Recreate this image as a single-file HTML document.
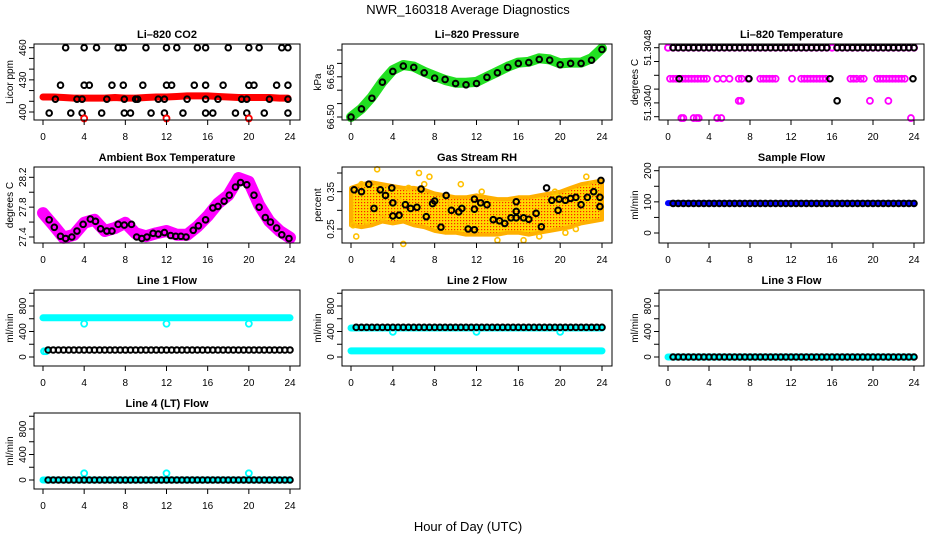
<!DOCTYPE html>
<html><head><meta charset="utf-8">
<style>
html,body{margin:0;padding:0;background:#fff;}
svg{display:block;font-family:"Liberation Sans",sans-serif;}
</style></head>
<body>
<svg id="chart" width="936" height="540" viewBox="0 0 936 540" xmlns="http://www.w3.org/2000/svg">
<defs>
<pattern id="rhpat" width="3" height="3" patternUnits="userSpaceOnUse">
<rect width="3" height="3" fill="#ffd800"/><rect x="1" y="1" width="1.2" height="1.2" fill="#ff2000"/>
</pattern>
</defs>
<text x="468" y="14" text-anchor="middle" font-size="13">NWR_160318  Average Diagnostics</text>
<text x="468" y="531" text-anchor="middle" font-size="13">Hour of Day (UTC)</text>
<g id="panels"></g>
</svg>
<script>
// ---- data ----
const hours = [0,1,2,3,4,5,6,7,8,9,10,11,12,13,14,15,16,17,18,19,20,21,22,23,24];
const hh = [0,0.5,1,1.5,2,2.5,3,3.5,4,4.5,5,5.5,6,6.5,7,7.5,8,8.5,9,9.5,10,10.5,11,11.5,12,12.5,13,13.5,14,14.5,15,15.5,16,16.5,17,17.5,18,18.5,19,19.5,20,20.5,21,21.5,22,22.5,23,23.5,24];
const xTicks = [0,4,8,12,16,20,24];

// CO2
const co2Red = [414,414,413.5,413,413,413,413,413.5,413,413,413.5,414,414,414.5,415,415,415,414.5,414,413.5,413.5,413.5,413.5,413,413];
const co2BlackHours = [2.2,4,5.2,7.3,7.8,10,12,13,15,15.8,18,20,21,23.2,23.8, 1.7,4,4.5,6.7,7.8,9.7,12,12.5,14.7,15.8,17.5,20,20.5,22.7,23.8, 1.2,3.3,3.8,6.2,7.9,9,9.2,11.2,11.8,14,15.8,17,19.3,19.8,22,23.8, 0.6,2.7,3.8,5.7,7.9,8.5,10.5,11.8,13.6,15.8,16.5,18.7,19.8,21.5,23.8];
const co2BlackVals = [460,460,460,460,460,460,460,460,460,460,460,460,460,460,460, 425,425,425,425,425,425,425,425,425,425,425,425,425,425,425, 412,412,412,412,412,412,412,412,412,412,412,412,412,412,412,412, 399,399,399,399,399,399,399,399,399,399,399,399,399,399,399];
const co2OutHours = [4,12,20];
const co2OutVals = [394,394,394];

// Pressure
const presGreen = [66.50,66.531,66.575,66.631,66.675,66.694,66.688,66.669,66.653,66.638,66.628,66.628,66.631,66.65,66.669,66.688,66.703,66.706,66.719,66.715,66.70,66.703,66.703,66.719,66.756];
const presBlack = [66.50,66.53,66.57,66.63,66.67,66.69,66.685,66.665,66.645,66.64,66.625,66.62,66.625,66.648,66.665,66.685,66.700,66.703,66.715,66.712,66.695,66.70,66.70,66.712,66.752];

// Li-820 temperature
const tempTopMag = [51.3048,51.3048,51.3048,51.3048,51.3048,51.3048,51.3048,51.3048,51.3048,51.3048,51.3048,51.3048,51.3048,51.3048,51.3048,51.3048,51.3048,51.3048,51.3048,51.3048,51.3048,51.3048,51.3048,51.3048,51.3048,51.3048,51.3048,51.3048,51.3048,51.3048,51.3048,51.3048,51.3048,51.3048,51.3048,51.3048,51.3048,51.3048,51.3048,51.3048,51.3048,51.3048,51.3048,51.3048,51.3048,51.3048,51.3048,51.3048,51.3048];
const tempTopBlack = [null,51.3048,51.3048,51.3048,51.3048,51.3048,51.3048,51.3048,51.3048,51.3048,51.3048,51.3048,51.3048,51.3048,51.3048,51.3048,51.3048,51.3048,51.3048,51.3048,51.3048,51.3048,51.3048,51.3048,51.3048,51.3048,51.3048,51.3048,51.3048,51.3048,51.3048,51.3048,null,51.3048,51.3048,51.3048,51.3048,51.3048,51.3048,51.3048,51.3048,51.3048,51.3048,51.3048,51.3048,51.3048,51.3048,51.3048,51.3048];
const tempMagHours = [0.2,0.5,0.8,1.1,1.4,1.7,2.0,2.3,2.6,2.9,3.2,3.5,3.8,4.8,5.4,6.0,6.9,7.2,7.8,9.0,9.3,9.6,9.9,10.2,10.5,12.1,13.0,13.3,13.6,13.9,14.2,14.5,14.8,15.1,15.4,17.8,18.1,18.4,18.8,19.1,20.4,20.7,21.0,21.3,21.6,21.9,22.2,22.5,22.8,23.1, 6.9,7.1,19.7,21.5, 1.3,1.5,2.5,2.8,3.0,4.8,5.2,23.7];
const tempMagVals = [51.30435,51.30435,51.30435,51.30435,51.30435,51.30435,51.30435,51.30435,51.30435,51.30435,51.30435,51.30435,51.30435,51.30435,51.30435,51.30435,51.30435,51.30435,51.30435,51.30435,51.30435,51.30435,51.30435,51.30435,51.30435,51.30435,51.30435,51.30435,51.30435,51.30435,51.30435,51.30435,51.30435,51.30435,51.30435,51.30435,51.30435,51.30435,51.30435,51.30435,51.30435,51.30435,51.30435,51.30435,51.30435,51.30435,51.30435,51.30435,51.30435,51.30435, 51.30403,51.30403,51.30403,51.30403, 51.30378,51.30378,51.30378,51.30378,51.30378,51.30378,51.30378,51.30378];
const tempBlackHours = [1.1,7.9,15.8,23.9,16.5];
const tempBlackVals = [51.30435,51.30435,51.30435,51.30435,51.30403];

// Ambient box temperature
const ambMag = [27.72,27.56,27.39,27.43,27.59,27.63,27.48,27.52,27.59,27.45,27.41,27.45,27.48,27.43,27.43,27.54,27.68,27.85,27.96,28.19,28.14,27.83,27.61,27.48,27.39];
const ambBlackHours = [0.6,1.1,1.7,2.2,2.8,3.3,3.9,4.6,5.1,5.6,6.2,6.7,7.3,7.9,8.6,9.1,9.6,10.1,10.7,11.2,11.8,12.4,12.9,13.4,13.9,14.6,15.1,15.8,16.5,17,17.6,18.1,18.7,19.2,19.8,20.5,21,21.6,22.1,22.7,23.2,23.9];
const ambBlackVals = [27.63,27.53,27.41,27.38,27.40,27.48,27.57,27.64,27.61,27.51,27.48,27.48,27.57,27.56,27.57,27.40,27.38,27.40,27.45,27.44,27.46,27.42,27.41,27.41,27.40,27.49,27.55,27.63,27.79,27.81,27.88,27.96,28.07,28.13,28.10,27.96,27.80,27.66,27.60,27.52,27.43,27.38];

// Gas stream RH
const rhUpper = [0.36,0.37,0.375,0.37,0.365,0.36,0.36,0.355,0.345,0.34,0.335,0.335,0.34,0.335,0.33,0.33,0.335,0.335,0.34,0.345,0.35,0.36,0.37,0.375,0.38];
const rhLower = [0.26,0.255,0.26,0.27,0.265,0.27,0.26,0.255,0.245,0.24,0.24,0.235,0.235,0.235,0.235,0.24,0.24,0.235,0.24,0.245,0.25,0.255,0.265,0.27,0.275];
const rhBlackHours = [0.3,1,1.7,2.2,2.8,3.3,3.9,4,4,4.6,5.2,5.7,6.3,6.7,7.2,7.8,8,8.6,9.1,9.6,10.3,10.6,11.2,11.8,11.8,11.8,12.4,13,13.6,14.2,14.7,15.3,15.8,15.8,15.8,16.5,17,17.7,18.2,18.7,19.2,19.8,19.9,20.5,21,21.5,22,22.6,23.2,23.8,23.8,23.9];
const rhBlackVals = [0.355,0.35,0.37,0.305,0.355,0.34,0.36,0.32,0.285,0.287,0.315,0.305,0.308,0.357,0.283,0.318,0.325,0.255,0.34,0.30,0.296,0.305,0.25,0.248,0.33,0.303,0.32,0.315,0.275,0.272,0.265,0.28,0.297,0.323,0.28,0.28,0.276,0.292,0.256,0.36,0.327,0.30,0.33,0.327,0.332,0.335,0.315,0.335,0.35,0.31,0.335,0.38];
const rhYellowHours = [0.2,0.5,1.0,1.5,2.5,3.0,4.5,5.0,5.5,6.5,7.0,7.5,9.5,10.5,12.5,14.0,16.5,18.0,19.5,20.5,21.5,22.5,23.0];
const rhYellowVals = [0.26,0.23,0.37,0.27,0.41,0.28,0.33,0.21,0.36,0.40,0.37,0.39,0.32,0.37,0.35,0.22,0.22,0.23,0.35,0.24,0.25,0.39,0.37];

// Sample flow
const sampBlue = [96,96,96,96,96,96,96,96,96,96,96,96,96,96,96,96,96,96,96,96,96,96,96,96,96,96,96,96,96,96,96,96,96,96,96,96,96,96,96,96,96,96,96,96,96,96,96,96,96];
const sampBlack = [null,95,95,95,95,95,95,95,95,95,95,95,95,95,95,95,95,95,95,95,95,95,95,95,95,95,95,95,95,95,95,95,95,95,95,95,95,95,95,95,95,95,95,95,95,95,95,95,95];

// Line flows
const l1Cyan = [615,615,615,615,615,615,615,615,615,615,615,615,615,615,615,615,615,615,615,615,615,615,615,615,615,615,615,615,615,615,615,615,615,615,615,615,615,615,615,615,615,615,615,615,615,615,615,615,615];
const l1Black = [null,110,110,110,110,110,110,110,110,110,110,110,110,110,110,110,110,110,110,110,110,110,110,110,110,110,110,110,110,110,110,110,110,110,110,110,110,110,110,110,110,110,110,110,110,110,110,110,110];
const l1CyanExtraHours = [0.1,0.3,4,12,20];
const l1CyanExtraVals = [90,90,522,522,522];

const l2CyanUp = [455,455,455,455,455,455,455,455,455,455,455,455,455,455,455,455,455,455,455,455,455,455,455,455,455,455,455,455,455,455,455,455,455,455,455,455,455,455,455,455,455,455,455,455,455,455,455,455,455];
const l2CyanLow = [95,95,95,95,95,95,95,95,95,95,95,95,95,95,95,95,95,95,95,95,95,95,95,95,95,95,95,95,95,95,95,95,95,95,95,95,95,95,95,95,95,95,95,95,95,95,95,95,95];
const l2Black = [null,465,465,465,465,465,465,465,465,465,465,465,465,465,465,465,465,465,465,465,465,465,465,465,465,465,465,465,465,465,465,465,465,465,465,465,465,465,465,465,465,465,465,465,465,465,465,465,465];
const l2CyanExtraHours = [4,12,20];
const l2CyanExtraVals = [395,395,395];

const l3Cyan = [0,0,0,0,0,0,0,0,0,0,0,0,0,0,0,0,0,0,0,0,0,0,0,0,0,0,0,0,0,0,0,0,0,0,0,0,0,0,0,0,0,0,0,0,0,0,0,0,0];
const l3Black = [null,0,0,0,0,0,0,0,0,0,0,0,0,0,0,0,0,0,0,0,0,0,0,0,0,0,0,0,0,0,0,0,0,0,0,0,0,0,0,0,0,0,0,0,0,0,0,0,0];

const l4Cyan = [0,0,0,0,0,0,0,0,0,0,0,0,0,0,0,0,0,0,0,0,0,0,0,0,0,0,0,0,0,0,0,0,0,0,0,0,0,0,0,0,0,0,0,0,0,0,0,0,0];
const l4Black = [null,0,0,0,0,0,0,0,0,0,0,0,0,0,0,0,0,0,0,0,0,0,0,0,0,0,0,0,0,0,0,0,0,0,0,0,0,0,0,0,0,0,0,0,0,0,0,0,0];
const l4CyanExtraHours = [4,12,20];
const l4CyanExtraVals = [105,105,105];

const flowTicks = [0,200,400,600,800,1000];
const flowLabels = [0,400,800];

// ---- drawing ----
const NS = 'http://www.w3.org/2000/svg';
const root = document.getElementById('panels');
function mk(tag, parent, attrs){
  const e = document.createElementNS(NS, tag);
  for (const k in attrs) e.setAttribute(k, attrs[k]);
  parent.appendChild(e);
  return e;
}
const cols = [[34,300],[342,612],[659,924]];
const rows = [[44,120],[167,243],[290,366],[413,489]];

function panel(cfg){
  const [bl, br] = cols[cfg.col];
  const [bt, bb] = rows[cfg.row];
  const g = mk('g', root, {});
  
  
  const x0 = bl + 9, x1 = br - 10;
  const xs = v => x0 + (v / 24) * (x1 - x0);
  const [va, oa, vb, ob] = cfg.ycal;
  const ys = v => (bt + oa) + (v - va) * ((ob - oa) / (vb - va));
  const cg = mk('g', g, {});
  
  
  cfg.draw(cg, xs, ys);
  const box = mk('rect', g, {x: bl, y: bt, width: br - bl, height: bb - bt, fill: 'none', stroke: '#000', 'stroke-width': 1});
  
  
  const t = mk('text', g, {x: (bl + br) / 2, y: bt - 6, 'text-anchor': 'middle', 'font-size': 11, 'font-weight': 'bold'});
  t.textContent = cfg.title;
  
  
  const xa = mk('g', g, {});
  
  
  xTicks.forEach(v => {
    mk('line', xa, {x1: xs(v), x2: xs(v), y1: bb, y2: bb + 5, stroke: '#000'});
    const lt = mk('text', xa, {x: xs(v), y: bb + 20, 'text-anchor': 'middle', 'font-size': 10});
    lt.textContent = v;
  });
  const ya = mk('g', g, {});
  
  
  cfg.yticks.forEach(v => {
    mk('line', ya, {x1: bl - 5, x2: bl, y1: ys(v), y2: ys(v), stroke: '#000'});
  });
  cfg.ylabels.forEach((v, i) => {
    const lx = bl - 8, ly = ys(v);
    const lt = mk('text', ya, {x: lx, y: ly, 'text-anchor': 'middle', 'font-size': 10, transform: `rotate(-90 ${lx} ${ly})`});
    lt.textContent = cfg.ylabelText ? cfg.ylabelText[i] : v;
  });
  const tx = bl - 21, ty = (bt + bb) / 2;
  const yt = mk('text', g, {x: tx, y: ty, 'text-anchor': 'middle', 'font-size': 10, transform: `rotate(-90 ${tx} ${ty})`});
  yt.textContent = cfg.ytitle;
  
  
}

function pts(g, xsArr, vals, xs, ys, color, r, sw, name){
  xsArr.forEach((h, i) => {
    const v = vals[i];
    if (v === null || v === undefined) return;
    const c = mk('circle', g, {cx: xs(h), cy: ys(v), r: r, fill: 'none', stroke: color, 'stroke-width': sw});
    
    
  });
}
function band(g, xsArr, vals, xs, ys, color, w, name){
  const p = [];
  xsArr.forEach((h, i) => { if (vals[i] !== null) p.push(xs(h).toFixed(1) + ',' + ys(vals[i]).toFixed(1)); });
  const l = mk('polyline', g, {points: p.join(' '), fill: 'none', stroke: color, 'stroke-width': w, 'stroke-linejoin': 'round', 'stroke-linecap': 'round'});
  
  
}

const BLK = '#000', CY = '#00ffff';
const BR = 2.8, BW = 2;

panel({name: 'co2-panel', title: 'Li\u2013820 CO2', col: 0, row: 0, ytitle: 'Licor ppm',
  ycal: [400, 68, 460, 3.7], yticks: [400,410,420,430,440,450,460], ylabels: [400,430,460],
  draw: (g, xs, ys) => {
    band(g, hours.slice(0, 24).concat([23.8]), co2Red, xs, ys, '#ff0000', 7, 'co2-red-band');
    pts(g, co2BlackHours, co2BlackVals, xs, ys, BLK, BR, BW, 'co2-black-point');
    pts(g, co2OutHours, co2OutVals, xs, ys, '#ff0000', 3, 1.8, 'co2-red-outlier');
  }});

panel({name: 'pressure-panel', title: 'Li\u2013820 Pressure', col: 1, row: 0, ytitle: 'kPa',
  ycal: [66.50, 73, 66.75, 6], yticks: [66.50,66.55,66.60,66.65,66.70,66.75], ylabels: [66.50,66.65], ylabelText: ['66.50','66.65'],
  draw: (g, xs, ys) => {
    band(g, hours, presGreen, xs, ys, '#22e022', 10, 'pressure-green-band');
    pts(g, hours, presBlack, xs, ys, BLK, BR, BW, 'pressure-black-point');
  }});

panel({name: 'li820-temp-panel', title: 'Li\u2013820 Temperature', col: 2, row: 0, ytitle: 'degrees C',
  ycal: [51.3048, 3.7, 51.3038, 72.7], yticks: [51.3038,51.3040,51.3042,51.3044,51.3046,51.3048], ylabels: [51.3040,51.3048], ylabelText: ['51.3040','51.3048'],
  draw: (g, xs, ys) => {
    pts(g, hh, tempTopMag, xs, ys, '#ff00ff', 3, 2, 'temp-magenta-top');
    pts(g, tempMagHours, tempMagVals, xs, ys, '#ff00ff', 3, 1.8, 'temp-magenta-point');
    pts(g, hh, tempTopBlack, xs, ys, BLK, BR, BW, 'temp-black-top');
    pts(g, tempBlackHours, tempBlackVals, xs, ys, BLK, BR, BW, 'temp-black-point');
  }});

panel({name: 'ambient-temp-panel', title: 'Ambient Box Temperature', col: 0, row: 1, ytitle: 'degrees C',
  ycal: [27.4, 70, 28.2, 10.3], yticks: [27.4,27.6,27.8,28.0,28.2], ylabels: [27.4,27.8,28.2], ylabelText: ['27.4','27.8','28.2'],
  draw: (g, xs, ys) => {
    band(g, hours, ambMag, xs, ys, '#ff00ff', 12, 'ambient-magenta-band');
    pts(g, ambBlackHours, ambBlackVals, xs, ys, BLK, BR, BW, 'ambient-black-point');
  }});

panel({name: 'rh-panel', title: 'Gas Stream RH', col: 1, row: 1, ytitle: 'percent',
  ycal: [0.25, 62, 0.40, 6], yticks: [0.25,0.30,0.35,0.40], ylabels: [0.25,0.35], ylabelText: ['0.25','0.35'],
  draw: (g, xs, ys) => {
    const p = [];
    hours.forEach((h, i) => p.push(xs(h).toFixed(1) + ',' + ys(rhUpper[i]).toFixed(1)));
    for (let i = hours.length - 1; i >= 0; i--) p.push(xs(hours[i]).toFixed(1) + ',' + ys(rhLower[i]).toFixed(1));
    const poly = mk('polygon', g, {points: p.join(' '), fill: 'url(#rhpat)', stroke: '#ffb000', 'stroke-width': 4, 'stroke-linejoin': 'round'});
    
    
    pts(g, rhYellowHours, rhYellowVals, xs, ys, '#ffc000', 2.5, 1.6, 'rh-yellow-point');
    pts(g, rhBlackHours, rhBlackVals, xs, ys, BLK, BR, BW, 'rh-black-point');
  }});

panel({name: 'sample-flow-panel', title: 'Sample Flow', col: 2, row: 1, ytitle: 'ml/min',
  ycal: [0, 66, 200, 3.7], yticks: [0,50,100,150,200], ylabels: [0,100,200],
  draw: (g, xs, ys) => {
    band(g, hh, sampBlue, xs, ys, '#0000ff', 6, 'sample-blue-band');
    pts(g, hh, sampBlack, xs, ys, BLK, BR, BW, 'sample-black-point');
  }});

panel({name: 'line1-flow-panel', title: 'Line 1 Flow', col: 0, row: 2, ytitle: 'ml/min',
  ycal: [0, 67, 1000, 3.25], yticks: flowTicks, ylabels: flowLabels,
  draw: (g, xs, ys) => {
    band(g, hh, l1Cyan, xs, ys, CY, 7, 'line1-cyan-band');
    pts(g, l1CyanExtraHours, l1CyanExtraVals, xs, ys, CY, 3, 1.8, 'line1-cyan-point');
    pts(g, hh, l1Black, xs, ys, BLK, BR, BW, 'line1-black-point');
  }});

panel({name: 'line2-flow-panel', title: 'Line 2 Flow', col: 1, row: 2, ytitle: 'ml/min',
  ycal: [0, 67, 1000, 3.25], yticks: flowTicks, ylabels: flowLabels,
  draw: (g, xs, ys) => {
    band(g, hh, l2CyanUp, xs, ys, CY, 7, 'line2-cyan-upper-band');
    band(g, hh, l2CyanLow, xs, ys, CY, 7, 'line2-cyan-lower-band');
    pts(g, l2CyanExtraHours, l2CyanExtraVals, xs, ys, CY, 3, 1.8, 'line2-cyan-point');
    pts(g, hh, l2Black, xs, ys, BLK, BR, BW, 'line2-black-point');
  }});

panel({name: 'line3-flow-panel', title: 'Line 3 Flow', col: 2, row: 2, ytitle: 'ml/min',
  ycal: [0, 67, 1000, 3.25], yticks: flowTicks, ylabels: flowLabels,
  draw: (g, xs, ys) => {
    band(g, hh, l3Cyan, xs, ys, CY, 7, 'line3-cyan-band');
    pts(g, hh, l3Black, xs, ys, BLK, BR, BW, 'line3-black-point');
  }});

panel({name: 'line4-flow-panel', title: 'Line 4 (LT) Flow', col: 0, row: 3, ytitle: 'ml/min',
  ycal: [0, 67, 1000, 3.25], yticks: flowTicks, ylabels: flowLabels,
  draw: (g, xs, ys) => {
    band(g, hh, l4Cyan, xs, ys, CY, 7, 'line4-cyan-band');
    pts(g, l4CyanExtraHours, l4CyanExtraVals, xs, ys, CY, 3, 1.8, 'line4-cyan-point');
    pts(g, hh, l4Black, xs, ys, BLK, BR, BW, 'line4-black-point');
  }});
</script>
</body></html>
